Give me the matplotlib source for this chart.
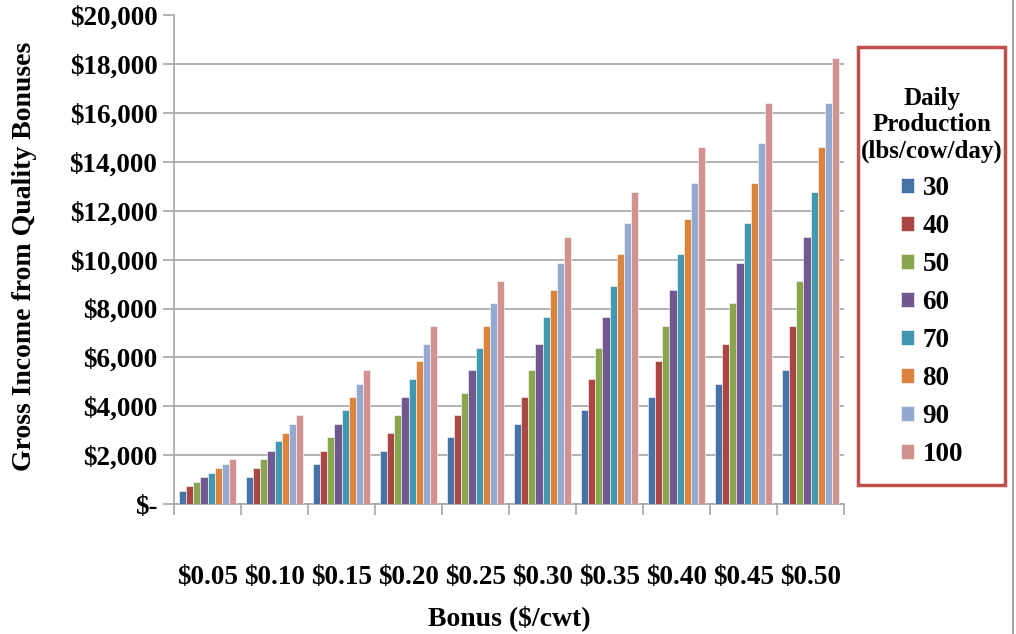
import matplotlib
matplotlib.use("Agg")
import matplotlib.pyplot as plt
import numpy as np
from matplotlib.patches import Rectangle
from matplotlib.lines import Line2D
from matplotlib.ticker import FuncFormatter

bonus_labels = ["$0.05", "$0.10", "$0.15", "$0.20", "$0.25", "$0.30", "$0.35", "$0.40", "$0.45", "$0.50"]
production = ["30", "40", "50", "60", "70", "80", "90", "100"]

s30 = [550, 1100, 1640, 2190, 2740, 3290, 3830, 4380, 4930, 5480]
s40 = [730, 1460, 2190, 2920, 3650, 4380, 5110, 5840, 6570, 7300]
s50 = [910, 1830, 2740, 3650, 4560, 5480, 6390, 7300, 8210, 9130]
s60 = [1100, 2190, 3290, 4380, 5480, 6570, 7670, 8760, 9860, 10950]
s70 = [1280, 2560, 3830, 5110, 6390, 7670, 8940, 10220, 11500, 12780]
s80 = [1460, 2920, 4380, 5840, 7300, 8760, 10220, 11680, 13140, 14600]
s90 = [1640, 3290, 4930, 6570, 8210, 9860, 11500, 13140, 14780, 16430]
s100 = [1830, 3650, 5480, 7300, 9130, 10950, 12780, 14600, 16430, 18250]
series = [s30, s40, s50, s60, s70, s80, s90, s100]

colors = ['#4572A7', '#AA4643', '#89A54E', '#71588F', '#4198AF', '#DB843D', '#93A9CF', '#D19392']

plt.rcParams['font.family'] = ['Liberation Serif', 'DejaVu Serif']
plt.rcParams['font.weight'] = 'bold'

fig = plt.figure(figsize=(10.16, 6.34), dpi=100)
ax = fig.add_axes([174/1016, 1-504/634, 670/1016, (504-15.5)/634])

n = len(series)
w = 1/9.5
x = np.arange(len(bonus_labels))
handles = []
for i, (vals, c) in enumerate(zip(series, colors)):
    off = (i - (n-1)/2) * w
    b = ax.bar(x + off, vals, width=w, color=c, edgecolor='white', linewidth=0.4, zorder=3)
    handles.append(b)

ax.set_xlim(-0.5, len(bonus_labels)-0.5)
ax.set_ylim(0, 20000)
ax.set_yticks(np.arange(0, 20001, 2000))
ax.yaxis.set_major_formatter(FuncFormatter(lambda v, p: "$-" if v == 0 else "${:,.0f}".format(v)))
ax.grid(axis='y', color='#A6A6A6', linewidth=1.2, zorder=0)
ax.set_axisbelow(True)

ax.set_xticks(np.arange(-0.5, len(bonus_labels), 1.0))
ax.set_xticklabels([])
ax.set_xticks(x, minor=True)
ax.set_xticklabels(bonus_labels, minor=True)
ax.tick_params(axis='x', which='minor', length=0, pad=44, labelsize=19.5)
ax.tick_params(axis='x', which='major', length=8, color='#A6A6A6', width=1.2)
ax.tick_params(axis='y', length=8, color='#A6A6A6', width=1.2, labelsize=19.5, pad=4)

for s in ['top', 'right']:
    ax.spines[s].set_visible(False)
for s in ['left', 'bottom']:
    ax.spines[s].set_color('#A6A6A6')
    ax.spines[s].set_linewidth(1.2)

fig.text(25/1016, 1-256/634, "Gross Income from Quality Bonuses", rotation=90,
         fontsize=20, fontweight='bold', ha='center', va='center')
fig.text(509/1016, 1-618/634, "Bonus ($/cwt)", fontsize=20, fontweight='bold', ha='center', va='center')

fig.patches.append(Rectangle((858/1016, 1-485/634), 147/1016, 438/634, transform=fig.transFigure,
                             fill=False, edgecolor='#C0504D', linewidth=2.5))
fig.add_artist(Line2D([1013/1016, 1013/1016], [0, 1], transform=fig.transFigure, color='#A6A6A6', linewidth=1.5))

leg = fig.legend(handles, production, loc='upper center', bbox_to_anchor=(932/1016, 1-73/634),
                 frameon=False, title="Daily\nProduction\n(lbs/cow/day)", title_fontsize=18,
                 prop={'family': 'Liberation Serif', 'weight': 'bold', 'size': 19.5},
                 handlelength=0.5, handleheight=0.5, handletextpad=0.3, labelspacing=0.48,
                 borderpad=0)
leg.get_title().set_fontweight('bold')
leg.get_title().set_multialignment('center')

fig.savefig("out.png", dpi=100)
